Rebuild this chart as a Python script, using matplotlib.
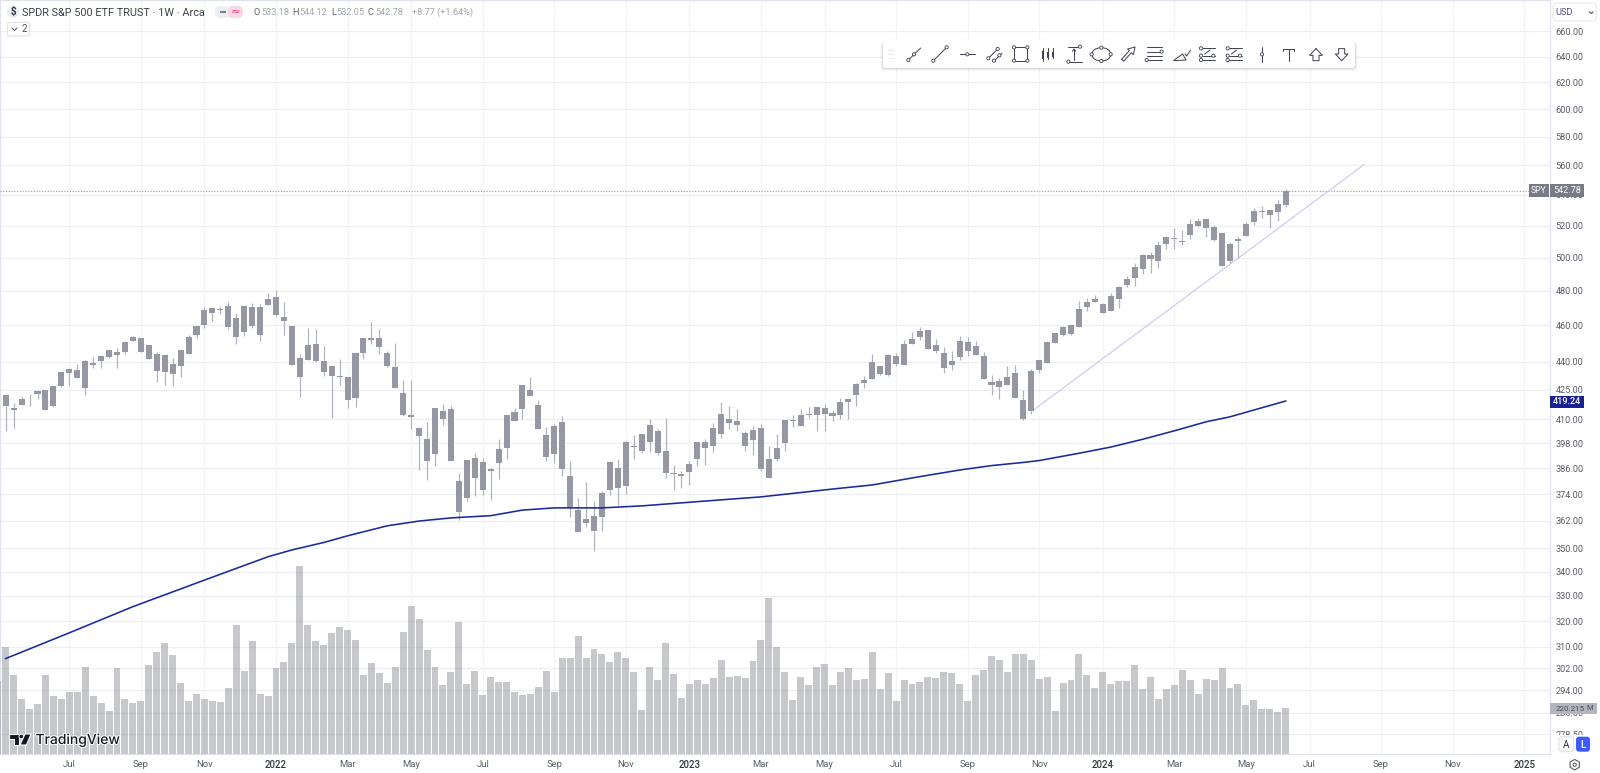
import matplotlib
matplotlib.use("Agg")
import matplotlib.pyplot as plt
import matplotlib.patheffects as pe
from matplotlib.patches import FancyBboxPatch, Rectangle, Circle, Ellipse, Polygon
from matplotlib.ticker import NullLocator, FixedLocator, FixedFormatter

plt.rcParams['font.family'] = ['Roboto', 'DejaVu Sans']

# ---------- weekly candles (SPY, first bar = week of 2021-05-10) ----------
body_high = [422.6,415.9,420.4,423.1,424.5,424.8,426.8,434.3,435.9,435.7,440.4,439.5,442.9,446.4,445.0,450.7,453.3,453.0,449.1,444.2,
 443.5,438.6,446.2,453.5,459.6,468.9,470.2,469.2,471.2,464.4,471.0,470.4,470.8,475.0,476.5,464.8,459.8,442.2,449.1,449.8,
 440.2,437.9,432.5,432.0,444.9,452.8,453.2,453.2,444.5,437.1,423.6,412.0,405.4,400.0,415.7,413.9,415.0,379.9,390.0,391.0,
 388.8,385.7,395.2,412.0,413.4,427.5,424.8,417.1,402.0,406.7,408.7,382.4,366.6,362.6,363.9,374.5,389.0,386.3,398.8,396.7,
 402.6,407.0,403.9,394.3,383.7,383.1,388.2,398.7,398.9,405.7,412.4,410.0,408.9,403.3,404.4,405.4,390.3,395.9,409.5,409.5,
 412.2,412.5,416.0,415.6,413.0,418.9,420.4,428.0,430.0,439.8,437.5,443.4,443.2,449.4,452.5,456.9,457.5,449.0,444.8,440.2,
 451.2,451.0,448.6,443.2,429.3,429.7,431.8,434.1,419.7,435.0,441.0,451.0,455.5,458.9,460.2,469.4,473.5,475.2,472.3,476.7,
 482.4,487.2,494.4,501.3,501.3,507.8,512.8,512.4,510.5,521.1,523.2,524.0,519.0,515.2,508.4,511.6,520.8,529.3,529.3,530.0,
 533.7,542.78]
body_low = [416.6,414.9,417.4,422.7,422.8,414.9,416.7,427.1,434.1,431.4,426.2,438.4,440.4,442.7,443.5,445.4,451.3,445.4,441.6,435.1,
 434.4,433.2,437.5,444.4,454.4,460.0,467.3,468.9,458.9,453.7,456.4,459.6,454.9,471.7,466.2,462.5,438.2,432.0,441.1,440.4,
 434.5,432.1,432.0,420.0,420.9,444.7,451.9,447.8,437.7,426.0,411.9,411.2,401.6,389.6,392.7,410.2,389.7,365.8,372.0,381.4,
 375.8,384.9,388.3,395.9,409.0,415.3,422.1,405.2,391.4,392.8,385.5,368.2,357.0,360.9,357.6,363.7,375.7,376.6,377.8,396.0,
 394.4,398.9,393.2,383.6,383.1,382.5,384.3,390.3,395.6,396.9,402.6,407.9,407.2,396.6,399.8,385.9,381.6,390.5,398.0,409.0,
 406.4,412.0,411.9,412.6,411.5,412.2,419.0,422.2,428.4,431.0,433.4,432.9,438.8,438.2,449.4,453.5,447.0,445.9,436.6,438.0,
 442.5,446.0,443.4,430.5,427.5,426.4,427.5,421.0,410.2,413.9,435.5,439.3,450.3,454.4,455.2,459.4,470.8,473.7,467.3,468.5,
 475.0,483.4,487.4,493.2,499.4,497.6,508.4,511.6,509.7,514.2,519.8,518.5,511.0,494.7,497.6,510.0,513.5,522.3,528.8,526.7,
 528.7,533.18]
high = [422.6,418.3,421.4,423.1,424.8,425.0,427.1,434.3,436.2,438.6,440.7,442.3,443.4,446.4,447.7,451.1,454.0,453.0,449.1,445.3,
 444.4,442.0,446.2,454.7,459.6,470.8,470.2,471.2,473.7,466.9,471.0,472.7,472.5,479.0,480.4,473.5,459.8,444.4,458.3,458.0,
 448.3,437.9,441.3,432.0,444.9,452.8,462.0,457.8,445.8,450.3,430.0,430.0,406.0,408.7,415.7,417.6,416.7,384.0,390.0,393.1,
 390.7,386.3,400.1,412.0,415.7,427.5,432.0,420.0,406.0,407.7,411.5,389.4,372.4,379.5,370.6,375.5,389.4,390.5,399.1,402.3,
 402.6,410.2,404.9,410.5,387.4,384.5,389.4,398.7,400.2,408.0,418.7,416.7,415.3,404.3,406.7,407.4,396.9,402.4,409.5,412.0,
 415.3,416.0,416.0,417.6,414.6,420.7,420.4,428.7,432.1,444.0,437.5,444.3,444.5,451.6,456.6,459.3,457.5,452.4,448.0,445.8,
 454.0,453.3,451.2,445.0,432.7,431.5,437.7,438.4,425.2,436.2,441.0,451.3,456.0,459.6,460.2,474.0,476.0,477.3,472.9,478.6,
 482.8,488.6,496.4,502.1,503.4,510.1,513.2,518.3,517.2,524.0,524.7,524.0,520.4,515.2,509.7,513.0,522.5,531.4,532.8,530.0,
 536.6,544.12]
low = [404.3,405.5,417.0,416.6,420.5,414.9,416.2,426.6,427.8,431.4,422.2,436.4,436.4,442.2,436.4,444.0,451.3,445.4,441.6,429.3,
 427.4,426.8,432.0,444.4,453.0,458.5,462.5,466.8,458.1,449.5,454.0,458.5,451.3,471.7,465.2,454.7,438.2,421.4,441.1,439.6,
 432.2,410.7,427.8,415.7,416.2,441.3,449.6,444.0,437.3,426.0,411.5,405.0,385.2,380.7,387.3,407.2,389.7,362.1,370.9,373.1,
 373.4,371.4,381.0,390.4,409.0,410.2,422.1,405.2,389.6,388.4,382.2,363.6,357.0,359.3,348.6,357.6,373.5,369.0,374.0,390.4,
 393.4,393.7,392.3,381.6,376.0,377.0,378.0,387.0,387.8,393.8,400.6,404.9,404.0,394.1,392.5,384.8,381.6,389.7,394.2,405.9,
 406.4,410.5,404.3,404.2,408.9,410.2,410.0,416.9,426.2,430.8,432.9,432.4,437.7,438.2,449.4,451.7,447.0,444.8,433.7,435.5,
 441.0,443.0,443.4,430.5,422.6,420.3,427.5,421.0,409.8,412.7,434.1,439.3,450.3,454.0,454.8,459.4,468.0,473.7,466.9,468.5,
 470.2,482.4,483.0,490.0,490.8,493.8,505.0,505.0,508.0,511.4,519.2,513.0,510.0,494.8,496.4,499.8,513.5,520.2,525.0,518.7,
 522.8,532.05]

# weekly volume in millions; the first value is the bar just off the left edge
volume_m = [349,513,380,262,216,240,377,280,262,299,296,417,277,246,205,414,265,243,253,428,489,532,472,340,255,289,265,255,249,316,
 619,397,543,286,276,412,442,532,900,618,540,522,579,606,595,547,377,437,389,340,417,583,710,648,500,417,330,394,630,337,
 397,282,367,343,343,298,282,289,322,397,298,458,461,567,461,504,479,442,488,458,394,209,417,356,531,385,270,337,356,337,
 364,452,370,375,364,445,547,748,512,391,260,367,330,417,431,330,394,413,356,361,488,311,388,255,354,337,346,370,364,391,
 388,334,255,378,401,468,449,391,479,479,452,361,370,206,340,354,479,378,316,391,337,350,350,428,313,367,265,310,329,401,
 354,289,361,356,412,316,334,236,259,215,215,203,220.215]

# moving average read at selected weeks
ma_week = [0,8,16,25,33,36,40,43,48,52,56,61,65,69,75,80,88,95,104,109,115,120,124,128,130,135,139,143,147,151,154,158,161]
ma_value = [305.6,315.4,325.7,336.5,346.3,349.2,352.4,355.3,359.7,361.8,363.2,364.2,366.7,367.7,367.7,368.6,370.8,372.7,
            376.3,378.2,382.1,385.2,387.3,388.8,389.7,393.2,396.2,400.0,404.2,408.7,411.2,415.8,419.24]

# drawn trend line
trend_week = [129.3,170.9]
trend_price = [414.7,560.6]

last_price = 542.78

price_ticks = [660,640,620,600,580,560,540,520,500,480,460,440,425,410,398,386,374,362,350,340,330,320,310,302,294,286,278.5]
time_tick_week = [8,17,25,34,43,51,60,69,78,86,95,103,112,121,130,138,147,156,164,173,182,191]
time_tick_label = ['Jul','Sep','Nov','2022','Mar','May','Jul','Sep','Nov','2023','Mar','May','Jul','Sep','Nov','2024','Mar','May','Jul','Sep','Nov','2025']

# ---------- figure ----------
W, H = 1600, 773
fig = plt.figure(figsize=(W/100, H/100), dpi=100, facecolor='white')
AX_R, AX_B = 1550, 754
rect = [0, 1-AX_B/H, AX_R/W, AX_B/H]
xlim = (-5.7/7.95, (AX_R-5.7)/7.95)
ylim = (271.8, 686.0)

back = fig.add_axes(rect, zorder=1)
vol = fig.add_axes(rect, zorder=2)
ax = fig.add_axes(rect, zorder=3)
vol.patch.set_alpha(0); ax.patch.set_alpha(0)

for a in (back, ax):
    a.set_yscale('log')
    a.set_xlim(xlim); a.set_ylim(ylim)
vol.set_xlim(xlim); vol.set_ylim(0, 3609)
vol.axis('off'); ax.axis('off')

GRID_H, GRID_V = '#eeeff3', '#f3f4f8'
back.yaxis.set_major_locator(FixedLocator(price_ticks))
back.yaxis.set_major_formatter(FixedFormatter([f'{p:.2f}' for p in price_ticks]))
back.yaxis.set_minor_locator(NullLocator())
back.yaxis.tick_right()
back.set_xticks(time_tick_week)
back.set_xticklabels(time_tick_label)
back.tick_params(axis='y', length=0, pad=4, labelsize=6.6, labelcolor='#5a5d68')
back.tick_params(axis='x', length=0, pad=4.5, labelsize=6.8, labelcolor='#5a5d68')
for lab in back.get_xticklabels():
    if lab.get_text().isdigit():
        lab.set_fontweight('medium'); lab.set_color('#33363f'); lab.set_fontsize(6.9)
back.grid(axis='y', color=GRID_H, lw=0.9)
back.grid(axis='x', color=GRID_V, lw=0.9)
back.set_axisbelow(True)
for s in back.spines.values():
    s.set_color('#e0e3eb'); s.set_linewidth(0.9)

# volume bars
vol.bar(range(-1, len(volume_m)-1), volume_m, width=0.88, color='#7b7d86', alpha=0.42, linewidth=0)

# candles
n = len(high)
weeks = list(range(n))
ax.vlines(weeks, low, high, color='#b0b1ba', lw=0.85, zorder=3)
ax.bar(weeks, [max(t-b, 0.35) for t, b in zip(body_high, body_low)], bottom=body_low,
       width=0.76, color='#9597a2', linewidth=0, zorder=4)
ax.plot(ma_week, ma_value, color='#1a2a9c', lw=1.15, zorder=5)
ax.plot(trend_week, trend_price, color='#c9cceb', lw=0.85, zorder=2)
ax.axhline(last_price, color='#9598a1', lw=0.8, ls=(0, (1, 1.5)), zorder=1)

# ---------- overlay in pixel coordinates for the app furniture ----------
ov = fig.add_axes([0, 0, 1, 1], zorder=10)
ov.set_xlim(0, W); ov.set_ylim(H, 0); ov.axis('off'); ov.patch.set_alpha(0)

def box(x0, y0, x1, y1, fc, ec='none', r=2, lw=0.8, z=5, **kw):
    p = FancyBboxPatch((x0+r, y0+r), x1-x0-2*r, y1-y0-2*r, boxstyle=f'round,pad={r},rounding_size={r}',
                       fc=fc, ec=ec, lw=lw, zorder=z, **kw)
    ov.add_patch(p)
    return p

def txt(x, y, s, size=7, color='#50535e', ha='left', va='center', z=8, **kw):
    return ov.text(x, y, s, fontsize=size, color=color, ha=ha, va=va, zorder=z, **kw)

# header
ov.add_patch(Circle((13, 12), 6, fc='#e9ecf2', ec='none', zorder=6))
txt(13, 12.3, '$', 7, '#2f323c', ha='center', fontweight='bold')
txt(22.5, 12.5, 'SPDR S&P 500 ETF TRUST · 1W · Arca', 7.8, '#3d404a')
box(215, 6, 230, 18, '#eceef3', r=5)
box(228, 6, 243, 18, '#f9d8e3', r=5)
ov.add_patch(Rectangle((220, 11), 6, 1.8, fc='#7d808b', ec='none', zorder=7))
txt(235.5, 11.8, '≈', 8, '#e8467c', ha='center', family=['DejaVu Sans'])
xs = [254, 292.7, 331.5, 368]
for x, lab, val in zip(xs, 'OHLC', ['533.18', '544.12', '532.05', '542.78']):
    txt(x, 12.5, lab, 6.6, '#5d606b')
    txt(x+(5 if lab == 'L' else 6.8), 12.5, val, 6.6, '#a4a6b0')
txt(412.5, 12.5, '+8.77 (+1.64%)', 6.6, '#a4a6b0')

box(7.5, 22.5, 29.5, 36, 'white', ec='#e0e3eb')
ov.plot([12, 14.5, 17], [28, 30.5, 28], color='#50535e', lw=0.7, zorder=8)
txt(21, 29.5, '2', 7, '#50535e')

# right scale tags
ov.add_patch(Rectangle((1529, 184.3), 20.3, 12.4, fc='#787b86', zorder=6))
txt(1539, 190.8, 'SPY', 6.2, 'white', ha='center')
ov.add_patch(Rectangle((1550, 184.3), 34, 12.4, fc='#787b86', zorder=6))
txt(1567, 190.8, '542.78', 6.6, 'white', ha='center')
ov.add_patch(Rectangle((1550, 396), 34, 11.5, fc='#1a2193', zorder=6))
txt(1567, 402, '419.24', 6.6, 'white', ha='center', fontweight='medium')
ov.add_patch(Rectangle((1550, 703), 46.7, 11, fc='#b2b5be', zorder=6))
txt(1555.5, 709, '220.215', 5.8, '#4a4d57')
txt(1586, 709, 'M', 5.4, '#4a4d57')

# USD selector
box(1553, 3, 1596, 21, 'white', ec='#e6e8ee', r=3)
txt(1555.7, 12.5, 'USD', 6.7, '#5c4d86')
ov.plot([1589.5, 1591.2, 1593], [12, 13.5, 12], color='#50535e', lw=0.8, zorder=8)

# A / L buttons and the cover for the clipped last tick
ov.add_patch(Rectangle((1551, 735), 48, 18.5, fc='white', ec='none', zorder=4))
box(1559, 736.7, 1573.5, 751.7, 'white', ec='#e0e3eb', r=3)
txt(1566.2, 744.5, 'A', 7.2, '#2f323c', ha='center')
box(1576, 736.7, 1590, 751.7, '#3f5bff', r=3)
txt(1583, 744.5, 'L', 7.2, 'white', ha='center', fontweight='medium')

# gear
ov.add_patch(Polygon([(1574.7, 759.5), (1579.3, 762), (1579.3, 767.2), (1574.7, 770), (1570.1, 767.2), (1570.1, 762)],
                     fc='white', ec='#50535e', lw=0.75, zorder=7))
ov.add_patch(Circle((1574.7, 764.7), 1.6, fc='white', ec='#50535e', lw=0.7, zorder=8))

# TradingView mark
ov.add_patch(Polygon([(9, 734), (19, 734), (19, 745), (14, 745), (14, 739), (9, 739)], fc='#131722', ec='white', lw=0.8, zorder=7))
ov.add_patch(Circle((21.3, 736.5), 2.3, fc='#131722', ec='white', lw=0.6, zorder=7))
ov.add_patch(Polygon([(25, 734), (31, 734), (26.5, 745), (20, 745)], fc='#131722', ec='white', lw=0.8, zorder=7))
t = txt(35.5, 740, 'TradingView', 10.0, '#131722', fontweight='medium', family=['Inter', 'Roboto'])
t.set_path_effects([pe.withStroke(linewidth=1.5, foreground='white')])

# drawing toolbar
for off, a_ in ((3, 0.05), (2, 0.07), (1, 0.09)):
    box(883-off+0.5, 41+off-1, 1355+off-0.5, 68+off, '#50535e', r=4, z=5, alpha=a_)
box(883, 41, 1355, 68, 'white', r=4, z=6)

def zx(v): return 870 + v/3
def zy(v): return 30 + v/3
IC, LW = '#3c3f4a', 0.7

def ln(pts):
    ov.plot([zx(p[0]) for p in pts], [zy(p[1]) for p in pts], color=IC, lw=LW, zorder=8, solid_capstyle='round')

def dot(x, y, r=1.6):
    ov.add_patch(Circle((zx(x), zy(y)), r, fc='white', ec=IC, lw=0.6, zorder=9))

for x in (58, 64, 72):
    for y in (62, 73, 85):
        ov.add_patch(Circle((zx(x), zy(y)), 0.45, fc='#b5b8c2', ec='none', zorder=8))
ln([(115, 90), (152, 54)]); dot(115, 90); dot(132, 73)
ln([(190, 92), (230, 52)]); dot(190, 92); dot(230, 52)
ln([(270, 73), (315, 73)]); dot(292, 73)
ln([(355, 85), (385, 55)]); dot(355, 85); dot(383, 57)
ln([(370, 95), (396, 70)]); dot(372, 92); dot(388, 76)
ln([(432, 52), (472, 52), (472, 92), (432, 92), (432, 52)])
for x, y in ((432, 52), (472, 52), (432, 92), (472, 92)):
    dot(x, y)
for x, y0, y1, b0, b1 in ((518, 55, 92, 62, 84), (533, 55, 88, 65, 80), (548, 55, 85, 67, 78)):
    ln([(x, y0), (x, y1)])
    ln([(x-2, b0), (x+2, b0), (x+2, b1), (x-2, b1), (x-2, b0)])
ln([(595, 50), (630, 50)]); ln([(595, 95), (635, 95)]); ln([(612, 58), (612, 90)])
ln([(607, 64), (612, 57), (617, 64)]); dot(630, 50); dot(595, 95)
ov.add_patch(Ellipse((zx(694), zy(73)), 57/3, 40/3, fc='none', ec=IC, lw=LW, zorder=8))
for x, y in ((665, 73), (722, 73), (694, 53), (694, 93)):
    dot(x, y)
ln([(755, 88), (778, 62), (773, 57), (795, 51), (790, 74), (784, 68), (761, 94), (755, 88)])
ln([(830, 52), (875, 52)]); ln([(830, 65), (875, 65)]); ln([(830, 78), (875, 78)]); ln([(830, 90), (875, 90)])
dot(875, 65); dot(830, 90)
ln([(912, 92), (948, 90), (938, 72), (915, 88), (912, 92)]); ln([(945, 72), (950, 78), (962, 60)])
for x0 in (990, 1070):
    for y, a0 in ((55, 1), (77, 0), (90, 0)):
        ln([(x0+8, y), (x0+45, y)])
        dot(x0+3, y); dot(x0+40, y) if y == 77 else None
    ln([(x0+14, 72), (x0+30, 60)])
ln([(1176, 50), (1176, 95)]); dot(1176, 73)
ln([(1240, 56), (1272, 56)]); ln([(1256, 56), (1256, 92)]); ln([(1240, 56), (1240, 62)]); ln([(1272, 56), (1272, 62)])
ln([(1338, 56), (1357, 76), (1347, 76), (1347, 92), (1329, 92), (1329, 76), (1319, 76), (1338, 56)])
ln([(1415, 92), (1434, 72), (1424, 72), (1424, 56), (1406, 56), (1406, 72), (1396, 72), (1415, 92)])

fig.savefig('out.png', dpi=100, facecolor='white')
